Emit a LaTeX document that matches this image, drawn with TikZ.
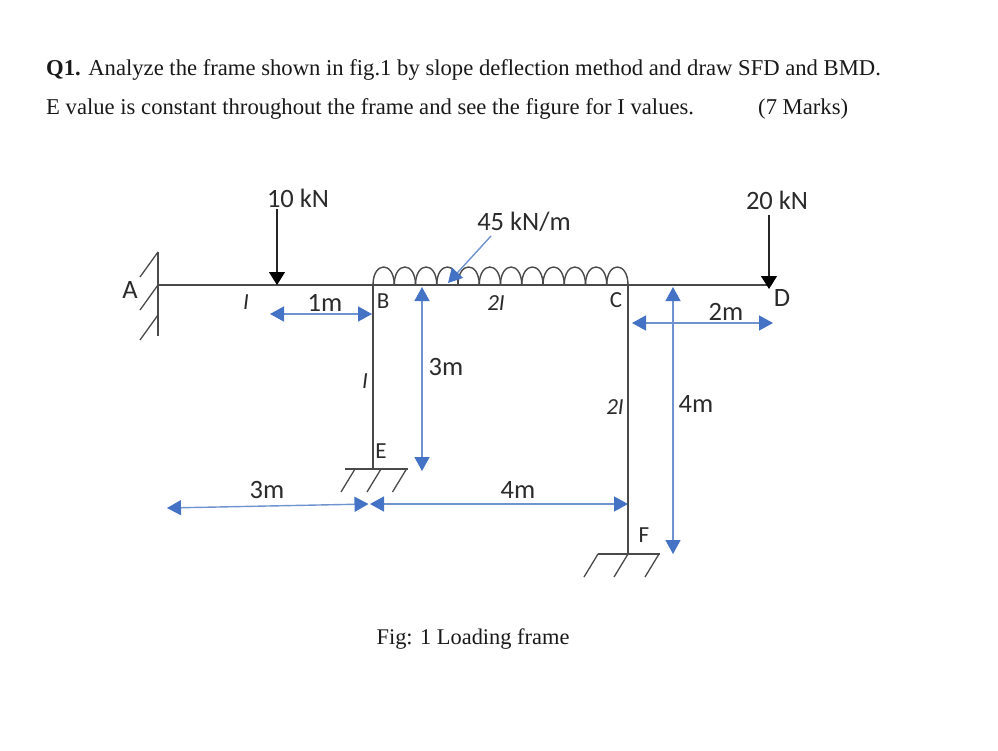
\documentclass[tikz,border=0pt]{standalone}
\usepackage{fontspec}
\setmainfont{Liberation Serif}
\newfontfamily\calib{Carlito}
\usetikzlibrary{arrows.meta}
\definecolor{dimblue}{HTML}{4472C4}
\definecolor{lineblue}{HTML}{6F93CE}
\definecolor{frameink}{HTML}{4A4A4A}
\definecolor{textink}{HTML}{2B2B2B}
\tikzset{
  framebar/.style={draw=frameink,line width=1.7pt},
  hatchbar/.style={draw=frameink,line width=1.3pt},
  coilbar/.style={draw=frameink,line width=1.4pt},
  loadarrow/.style={draw=black!85,line width=1.2pt,-{Triangle[length=13pt,width=16pt,color=black,fill=black]}},
  dimarrow/.style={draw=lineblue,line width=1.4pt,{Triangle[length=14pt,width=15pt,color=dimblue,fill=dimblue]}-{Triangle[length=14pt,width=15pt,color=dimblue,fill=dimblue]}},
  leaderarrow/.style={draw=lineblue,line width=1.4pt,-{Triangle[length=14pt,width=15pt,color=dimblue,fill=dimblue]}},
  lab/.style={text=textink,inner sep=0pt,font=\calib\fontsize{26.5}{30}\selectfont},
  smalllab/.style={text=textink,inner sep=0pt,font=\calib\fontsize{23}{27}\selectfont},
  ilab/.style={text=textink,inner sep=0pt,font=\calib\itshape\fontsize{23}{27}\selectfont},
  qtext/.style={text=black!90,inner sep=0pt,anchor=base west,font=\fontsize{22.65}{27}\selectfont},
  captext/.style={text=black!90,inner sep=0pt,font=\fontsize{22.4}{27}\selectfont},
}
\begin{document}
\begin{tikzpicture}[x=1pt,y=-1pt]
\useasboundingbox (0,0) rectangle (998,750);
% question text
\node[qtext] (q1) at (46,75.5) {\textbf{Q1.} Analyze the frame shown in fig.1 by slope deflection method and draw SFD and BMD.};
\node[qtext] (q2) at (46,114.5) {E value is constant throughout the frame and see the figure for I values.};
\node[qtext] (q3) at (758,114.5) {(7 Marks)};
\node[captext] (figcap) at (473,639) {Fig: 1 Loading frame};
% joints
\coordinate (A) at (158,285);
\coordinate (B) at (373,285);
\coordinate (C) at (628,285);
\coordinate (D) at (770,285);
\coordinate (E) at (373,469);
\coordinate (F) at (628,554);
\coordinate (P) at (277,285);
% frame
\draw[framebar] (A) -- (D);
\draw[framebar] (B) -- (E);
\draw[framebar] (C) -- (F);
% supports
\draw[hatchbar] (158,252) -- (158,336);
\foreach \y in {252,285,315} \draw[hatchbar] (158,\y) -- ++(-18,25);
\draw[hatchbar] (345,469) -- (408,469);
\foreach \x in {355,381,406.5} \draw[hatchbar] (\x,469) -- ++(-14,23);
\draw[hatchbar] (598,554) -- (660,554);
\foreach \x in {598,628,659} \draw[hatchbar] (\x,554) -- ++(-14,23);
% distributed load
\foreach \i in {0,...,11}
  \draw[coilbar] ({373+21.25*\i},285) .. controls ({373+21.25*\i},261) and ({373+21.25*(\i+1)},261) .. ({373+21.25*(\i+1)},285);
% point loads
\coordinate (P10) at (277,209);
\coordinate (P20) at (769,215);
\draw[loadarrow] (P10) -- (P);
\draw[loadarrow] (P20) -- (769,289);
% dimensions
\coordinate (d1a) at (270,314); \coordinate (d1b) at (372,314);
\draw[dimarrow] (d1a) -- (d1b);
\coordinate (d2a) at (632,323); \coordinate (d2b) at (773,323);
\draw[dimarrow] (d2a) -- (d2b);
\coordinate (d3a) at (422,287); \coordinate (d3b) at (422,471);
\draw[dimarrow] (d3a) -- (d3b);
\coordinate (d4a) at (673,287); \coordinate (d4b) at (673,554);
\draw[dimarrow] (d4a) -- (d4b);
\coordinate (d5a) at (167,508); \coordinate (d5b) at (368.5,504);
\draw[dimarrow] (d5a) -- (d5b);
\coordinate (d6a) at (370,504); \coordinate (d6b) at (628,504);
\draw[dimarrow] (d6a) -- (d6b);
\coordinate (lead) at (491,236); \coordinate (leadtip) at (448,283);
\draw[leaderarrow] (lead) -- (leadtip);
% labels
\node[lab] (l10) at (298,198) {10 kN};
\node[lab] (l20) at (777,200) {20 kN};
\node[lab] (l45) at (524,222) {45 kN/m};
\node[lab] (la) at (130,290) {A};
\node[smalllab] (lb) at (383,301) {B};
\node[smalllab] (lc) at (616,300) {C};
\node[lab] (ld) at (782,298) {D};
\node[smalllab] (le) at (381,451) {E};
\node[smalllab] (lf) at (644,535) {F};
\node[lab] (m1) at (325,303) {1m};
\node[lab] (m2) at (726,312) {2m};
\node[lab] (m3a) at (446,367) {3m};
\node[lab] (m4a) at (696,404) {4m};
\node[lab] (m3b) at (267,490) {3m};
\node[lab] (m4b) at (518,490) {4m};
\node[ilab] (i1) at (246,302) {I};
\node[ilab] (i2) at (365,381) {I};
\node[ilab] (i3) at (496,303) {2I};
\node[ilab] (i4) at (615,407) {2I};
\end{tikzpicture}
\end{document}
